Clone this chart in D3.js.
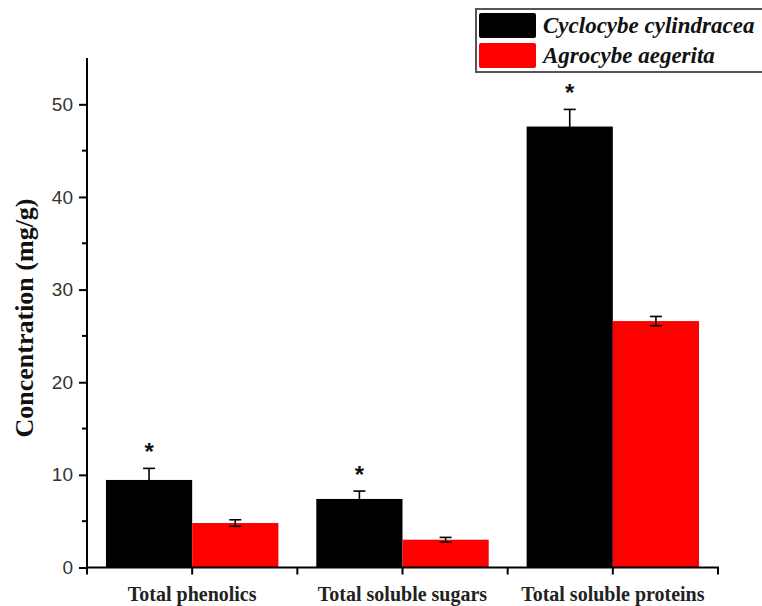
<!DOCTYPE html>
<html>
<head>
<meta charset="utf-8">
<script src="https://d3js.org/d3.v7.min.js"></script>
<style>
  body { margin: 0; background: #fff; }
  svg { display: block; }
</style>
</head>
<body>
<div id="chart"></div>
<script>
// data
var categories = ["Total phenolics", "Total soluble sugars", "Total soluble proteins"];
var species = ["Cyclocybe cylindracea", "Agrocybe aegerita"];
var cyclocybe = [9.45, 7.4, 47.6];
var cyclocybeErr = [1.25, 0.85, 1.85];
var agrocybe = [4.8, 3.0, 26.6];
var agrocybeErr = [0.35, 0.25, 0.5];
var signif = [true, true, true];   // asterisk over the black bars
var yTicks = [0, 10, 20, 30, 40, 50];
var yMinor = [5, 15, 25, 35, 45];
var colors = ["#000000", "#ff0000"];

var width = 762, height = 606;
var svg = d3.select("#chart").append("svg")
  .attr("width", width)
  .attr("height", height);

var xs = d3.scaleBand().domain(categories).range([87, 718]);
var inner = d3.scaleBand().domain(species).range([0, xs.bandwidth()]).paddingOuter(0.22);
var ys = d3.scaleLinear().domain([0, 55]).range([567.5, 58]);

var series = [
  { name: species[0], vals: cyclocybe, err: cyclocybeErr },
  { name: species[1], vals: agrocybe, err: agrocybeErr }
];

// bars
series.forEach(function(s, si) {
  var rows = categories.map(function(c, i) { return { cat: c, v: s.vals[i], e: s.err[i] }; });
  var g = svg.append("g");
  g.selectAll("rect").data(rows).enter().append("rect")
    .attr("x", function(d) { return xs(d.cat) + inner(s.name); })
    .attr("y", function(d) { return ys(d.v); })
    .attr("width", inner.bandwidth())
    .attr("height", function(d) { return ys(0) - ys(d.v); })
    .attr("fill", colors[si]);

  // error bars
  var eb = g.selectAll("g.err").data(rows).enter().append("g").attr("class", "err")
    .attr("stroke", "#000").attr("stroke-width", 1.6).attr("fill", "none");
  var cx = function(d) { return xs(d.cat) + inner(s.name) + inner.bandwidth() / 2; };
  eb.append("line")
    .attr("x1", cx).attr("x2", cx)
    .attr("y1", function(d) { return ys(d.v - d.e); })
    .attr("y2", function(d) { return ys(d.v + d.e); });
  eb.append("line")
    .attr("x1", function(d) { return cx(d) - 6; }).attr("x2", function(d) { return cx(d) + 6; })
    .attr("y1", function(d) { return ys(d.v + d.e); })
    .attr("y2", function(d) { return ys(d.v + d.e); });
  eb.append("line")
    .attr("x1", function(d) { return cx(d) - 6; }).attr("x2", function(d) { return cx(d) + 6; })
    .attr("y1", function(d) { return ys(d.v - d.e); })
    .attr("y2", function(d) { return ys(d.v - d.e); });
});

// asterisks
svg.append("g").selectAll("text")
  .data(categories.filter(function(c, i) { return signif[i]; }))
  .enter().append("text")
  .attr("x", function(c) { return xs(c) + inner(species[0]) + inner.bandwidth() / 2; })
  .attr("y", function(c) { var i = categories.indexOf(c); return ys(cyclocybe[i] + cyclocybeErr[i]) - 8; })
  .attr("text-anchor", "middle")
  .style("font-family", "'Liberation Sans', Arial, sans-serif")
  .style("font-weight", "bold")
  .style("font-size", "24px")
  .attr("fill", "#111")
  .text("*");

// y axis
var yAxis = svg.append("g")
  .attr("transform", "translate(87,0)")
  .call(d3.axisLeft(ys).tickValues(yTicks).tickSize(8).tickPadding(6).tickSizeOuter(0));
yAxis.select(".domain").attr("stroke-width", 2).attr("d", "M0," + ys(0) + "V" + ys(55));
yAxis.selectAll(".tick line").attr("stroke-width", 2);
yAxis.selectAll(".tick text")
  .style("font-family", "'Liberation Sans', Arial, sans-serif")
  .style("font-size", "19px")
  .attr("fill", "#333");
yAxis.selectAll(".minor").data(yMinor).enter().append("line")
  .attr("class", "minor")
  .attr("x1", -5).attr("x2", 0)
  .attr("y1", function(d) { return ys(d); }).attr("y2", function(d) { return ys(d); })
  .attr("stroke", "#000").attr("stroke-width", 2);

// x axis
var xAxis = svg.append("g")
  .attr("transform", "translate(0," + ys(0) + ")")
  .call(d3.axisBottom(xs).tickSize(7).tickPadding(12).tickSizeOuter(0));
xAxis.select(".domain").attr("stroke-width", 2).attr("d", "M86,0H719");
xAxis.selectAll(".tick line").attr("stroke-width", 2);
xAxis.selectAll(".tick text")
  .style("font-family", "'Liberation Serif', 'Times New Roman', serif")
  .style("font-weight", "bold")
  .style("font-size", "20px")
  .attr("fill", "#222");
// boundary ticks between categories
var bounds = categories.map(function(c) { return xs(c); }).concat([xs.range()[1]]);
xAxis.selectAll(".btick").data(bounds).enter().append("line")
  .attr("class", "btick")
  .attr("x1", function(d) { return d; }).attr("x2", function(d) { return d; })
  .attr("y1", 0).attr("y2", 7)
  .attr("stroke", "#000").attr("stroke-width", 2);

// y label
svg.append("text")
  .attr("transform", "translate(33,318) rotate(-90)")
  .attr("text-anchor", "middle")
  .style("font-family", "'Liberation Serif', 'Times New Roman', serif")
  .style("font-weight", "bold")
  .style("font-size", "26px")
  .attr("fill", "#111")
  .text("Concentration (mg/g)");

// legend
var lg = svg.append("g").attr("transform", "translate(476,9)");
lg.append("rect")
  .attr("x", 0).attr("y", 0).attr("width", 300).attr("height", 63)
  .attr("fill", "#fff").attr("stroke", "#555").attr("stroke-width", 2);
species.forEach(function(s, i) {
  lg.append("rect")
    .attr("x", 3).attr("y", 4 + i * 30).attr("width", 57).attr("height", 25)
    .attr("rx", 2)
    .attr("fill", colors[i]);
  lg.append("text")
    .attr("x", 67).attr("y", 24 + i * 30)
    .style("font-family", "'Liberation Serif', 'Times New Roman', serif")
    .style("font-style", "italic")
    .style("font-weight", "bold")
    .style("font-size", "23px")
    .attr("fill", "#111")
    .text(s);
});
</script>
</body>
</html>
